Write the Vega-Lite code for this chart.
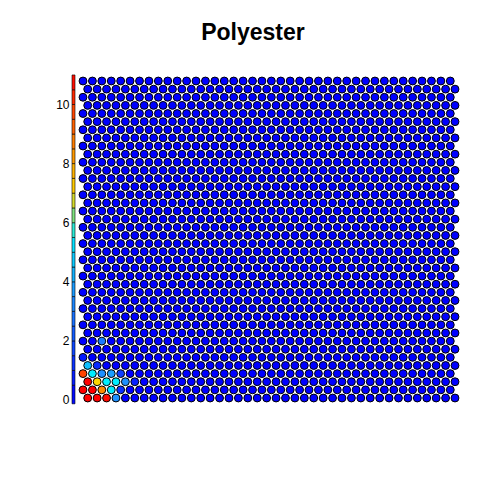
{
  "$schema": "https://vega.github.io/schema/vega-lite/v6.json",
  "background": "white",
  "autosize": "none",
  "padding": {"left": 72, "top": 70, "right": 18, "bottom": 70},
  "width": 390,
  "height": 340,
  "title": {
    "text": "Polyester",
    "font": "Liberation Sans",
    "fontSize": 23,
    "fontWeight": "bold",
    "color": "black",
    "anchor": "middle",
    "frame": "group",
    "baseline": "alphabetic",
    "offset": 7,
    "dx": -14
  },
  "config": {"view": {"stroke": null}},
  "datasets": {
    "bar": [
      {"lo":-0.13,"hi":0.5,"n":0.25},{"lo":0.5,"hi":1,"n":0.75},{"lo":1,"hi":1.5,"n":1.25},{"lo":1.5,"hi":2,"n":1.75},
      {"lo":2,"hi":2.5,"n":2.25},{"lo":2.5,"hi":3,"n":2.75},{"lo":3,"hi":3.5,"n":3.25},{"lo":3.5,"hi":4,"n":3.75},
      {"lo":4,"hi":4.5,"n":4.25},{"lo":4.5,"hi":5,"n":4.75},{"lo":5,"hi":5.5,"n":5.25},{"lo":5.5,"hi":6,"n":5.75},
      {"lo":6,"hi":6.5,"n":6.25},{"lo":6.5,"hi":7,"n":6.75},{"lo":7,"hi":7.5,"n":7.25},{"lo":7.5,"hi":8,"n":7.75},
      {"lo":8,"hi":8.5,"n":8.25},{"lo":8.5,"hi":9,"n":8.75},{"lo":9,"hi":9.5,"n":9.25},{"lo":9.5,"hi":10,"n":9.75},
      {"lo":10,"hi":10.5,"n":10.25},{"lo":10.5,"hi":11,"n":10.75}
    ],
    "cells": [
      {"x":0.5,"y":0,"n":11},{"x":1.5,"y":0,"n":11},{"x":2.5,"y":0,"n":10.8},{"x":3.5,"y":0,"n":3.5},{"x":4.5,"y":0,"n":0},{"x":5.5,"y":0,"n":0},{"x":6.5,"y":0,"n":0},{"x":7.5,"y":0,"n":0},{"x":8.5,"y":0,"n":0},{"x":9.5,"y":0,"n":0},{"x":10.5,"y":0,"n":0},{"x":11.5,"y":0,"n":0},{"x":12.5,"y":0,"n":0},{"x":13.5,"y":0,"n":0},{"x":14.5,"y":0,"n":0},{"x":15.5,"y":0,"n":0},{"x":16.5,"y":0,"n":0},{"x":17.5,"y":0,"n":0},{"x":18.5,"y":0,"n":0},{"x":19.5,"y":0,"n":0},{"x":20.5,"y":0,"n":0},{"x":21.5,"y":0,"n":0},{"x":22.5,"y":0,"n":0},{"x":23.5,"y":0,"n":0},{"x":24.5,"y":0,"n":0},{"x":25.5,"y":0,"n":0},{"x":26.5,"y":0,"n":0},{"x":27.5,"y":0,"n":0},{"x":28.5,"y":0,"n":0},{"x":29.5,"y":0,"n":0},{"x":30.5,"y":0,"n":0},{"x":31.5,"y":0,"n":0},{"x":32.5,"y":0,"n":0},{"x":33.5,"y":0,"n":0},{"x":34.5,"y":0,"n":0},{"x":35.5,"y":0,"n":0},{"x":36.5,"y":0,"n":0},{"x":37.5,"y":0,"n":0},{"x":38.5,"y":0,"n":0},{"x":39.5,"y":0,"n":0},
      {"x":0,"y":1,"n":11},{"x":1,"y":1,"n":11},{"x":2,"y":1,"n":8.5},{"x":3,"y":1,"n":5.5},{"x":4,"y":1,"n":1.2},{"x":5,"y":1,"n":0},{"x":6,"y":1,"n":0},{"x":7,"y":1,"n":0},{"x":8,"y":1,"n":0},{"x":9,"y":1,"n":0},{"x":10,"y":1,"n":0},{"x":11,"y":1,"n":0},{"x":12,"y":1,"n":0},{"x":13,"y":1,"n":0},{"x":14,"y":1,"n":0},{"x":15,"y":1,"n":0},{"x":16,"y":1,"n":0},{"x":17,"y":1,"n":0},{"x":18,"y":1,"n":0},{"x":19,"y":1,"n":0},{"x":20,"y":1,"n":0},{"x":21,"y":1,"n":0},{"x":22,"y":1,"n":0},{"x":23,"y":1,"n":0},{"x":24,"y":1,"n":0},{"x":25,"y":1,"n":0},{"x":26,"y":1,"n":0},{"x":27,"y":1,"n":0},{"x":28,"y":1,"n":0},{"x":29,"y":1,"n":0},{"x":30,"y":1,"n":0},{"x":31,"y":1,"n":0},{"x":32,"y":1,"n":0},{"x":33,"y":1,"n":0},{"x":34,"y":1,"n":0},{"x":35,"y":1,"n":0},{"x":36,"y":1,"n":0},{"x":37,"y":1,"n":0},{"x":38,"y":1,"n":0},{"x":39,"y":1,"n":0},
      {"x":0.5,"y":2,"n":11},{"x":1.5,"y":2,"n":7},{"x":2.5,"y":2,"n":5.5},{"x":3.5,"y":2,"n":5.5},{"x":4.5,"y":2,"n":3.5},{"x":5.5,"y":2,"n":0.8},{"x":6.5,"y":2,"n":0},{"x":7.5,"y":2,"n":0},{"x":8.5,"y":2,"n":0},{"x":9.5,"y":2,"n":0},{"x":10.5,"y":2,"n":0},{"x":11.5,"y":2,"n":0},{"x":12.5,"y":2,"n":0},{"x":13.5,"y":2,"n":0},{"x":14.5,"y":2,"n":0},{"x":15.5,"y":2,"n":0},{"x":16.5,"y":2,"n":0},{"x":17.5,"y":2,"n":0},{"x":18.5,"y":2,"n":0},{"x":19.5,"y":2,"n":0},{"x":20.5,"y":2,"n":0},{"x":21.5,"y":2,"n":0},{"x":22.5,"y":2,"n":0},{"x":23.5,"y":2,"n":0},{"x":24.5,"y":2,"n":0},{"x":25.5,"y":2,"n":0},{"x":26.5,"y":2,"n":0},{"x":27.5,"y":2,"n":0},{"x":28.5,"y":2,"n":0},{"x":29.5,"y":2,"n":0},{"x":30.5,"y":2,"n":0},{"x":31.5,"y":2,"n":0},{"x":32.5,"y":2,"n":0},{"x":33.5,"y":2,"n":0},{"x":34.5,"y":2,"n":0},{"x":35.5,"y":2,"n":0},{"x":36.5,"y":2,"n":0},{"x":37.5,"y":2,"n":0},{"x":38.5,"y":2,"n":0},{"x":39.5,"y":2,"n":0},
      {"x":0,"y":3,"n":9.8},{"x":1,"y":3,"n":5.5},{"x":2,"y":3,"n":3.5},{"x":3,"y":3,"n":3.8},{"x":4,"y":3,"n":1.5},{"x":5,"y":3,"n":0},{"x":6,"y":3,"n":0},{"x":7,"y":3,"n":0},{"x":8,"y":3,"n":0},{"x":9,"y":3,"n":0},{"x":10,"y":3,"n":0},{"x":11,"y":3,"n":0},{"x":12,"y":3,"n":0},{"x":13,"y":3,"n":0},{"x":14,"y":3,"n":0},{"x":15,"y":3,"n":0},{"x":16,"y":3,"n":0},{"x":17,"y":3,"n":0},{"x":18,"y":3,"n":0},{"x":19,"y":3,"n":0},{"x":20,"y":3,"n":0},{"x":21,"y":3,"n":0},{"x":22,"y":3,"n":0},{"x":23,"y":3,"n":0},{"x":24,"y":3,"n":0},{"x":25,"y":3,"n":0},{"x":26,"y":3,"n":0},{"x":27,"y":3,"n":0},{"x":28,"y":3,"n":0},{"x":29,"y":3,"n":0},{"x":30,"y":3,"n":0},{"x":31,"y":3,"n":0},{"x":32,"y":3,"n":0},{"x":33,"y":3,"n":0},{"x":34,"y":3,"n":0},{"x":35,"y":3,"n":0},{"x":36,"y":3,"n":0},{"x":37,"y":3,"n":0},{"x":38,"y":3,"n":0},{"x":39,"y":3,"n":0},
      {"x":0.5,"y":4,"n":4.5},{"x":1.5,"y":4,"n":1},{"x":2.5,"y":4,"n":0},{"x":3.5,"y":4,"n":0},{"x":4.5,"y":4,"n":0},{"x":5.5,"y":4,"n":0},{"x":6.5,"y":4,"n":0},{"x":7.5,"y":4,"n":0},{"x":8.5,"y":4,"n":0},{"x":9.5,"y":4,"n":0},{"x":10.5,"y":4,"n":0},{"x":11.5,"y":4,"n":0},{"x":12.5,"y":4,"n":0},{"x":13.5,"y":4,"n":0},{"x":14.5,"y":4,"n":0},{"x":15.5,"y":4,"n":0},{"x":16.5,"y":4,"n":0},{"x":17.5,"y":4,"n":0},{"x":18.5,"y":4,"n":0},{"x":19.5,"y":4,"n":0},{"x":20.5,"y":4,"n":0},{"x":21.5,"y":4,"n":0},{"x":22.5,"y":4,"n":0},{"x":23.5,"y":4,"n":0},{"x":24.5,"y":4,"n":0},{"x":25.5,"y":4,"n":0},{"x":26.5,"y":4,"n":0},{"x":27.5,"y":4,"n":0},{"x":28.5,"y":4,"n":0},{"x":29.5,"y":4,"n":0},{"x":30.5,"y":4,"n":0},{"x":31.5,"y":4,"n":0},{"x":32.5,"y":4,"n":0},{"x":33.5,"y":4,"n":0},{"x":34.5,"y":4,"n":0},{"x":35.5,"y":4,"n":0},{"x":36.5,"y":4,"n":0},{"x":37.5,"y":4,"n":0},{"x":38.5,"y":4,"n":0},{"x":39.5,"y":4,"n":0},
      {"x":0,"y":5,"n":0.6},{"x":1,"y":5,"n":0},{"x":2,"y":5,"n":0},{"x":3,"y":5,"n":0},{"x":4,"y":5,"n":0},{"x":5,"y":5,"n":0},{"x":6,"y":5,"n":0},{"x":7,"y":5,"n":0},{"x":8,"y":5,"n":0},{"x":9,"y":5,"n":0},{"x":10,"y":5,"n":0},{"x":11,"y":5,"n":0},{"x":12,"y":5,"n":0},{"x":13,"y":5,"n":0},{"x":14,"y":5,"n":0},{"x":15,"y":5,"n":0},{"x":16,"y":5,"n":0},{"x":17,"y":5,"n":0},{"x":18,"y":5,"n":0},{"x":19,"y":5,"n":0},{"x":20,"y":5,"n":0},{"x":21,"y":5,"n":0},{"x":22,"y":5,"n":0},{"x":23,"y":5,"n":0},{"x":24,"y":5,"n":0},{"x":25,"y":5,"n":0},{"x":26,"y":5,"n":0},{"x":27,"y":5,"n":0},{"x":28,"y":5,"n":0},{"x":29,"y":5,"n":0},{"x":30,"y":5,"n":0},{"x":31,"y":5,"n":0},{"x":32,"y":5,"n":0},{"x":33,"y":5,"n":0},{"x":34,"y":5,"n":0},{"x":35,"y":5,"n":0},{"x":36,"y":5,"n":0},{"x":37,"y":5,"n":0},{"x":38,"y":5,"n":0},{"x":39,"y":5,"n":0},
      {"x":0.5,"y":6,"n":0},{"x":1.5,"y":6,"n":0},{"x":2.5,"y":6,"n":0},{"x":3.5,"y":6,"n":0},{"x":4.5,"y":6,"n":0},{"x":5.5,"y":6,"n":0},{"x":6.5,"y":6,"n":0},{"x":7.5,"y":6,"n":0},{"x":8.5,"y":6,"n":0},{"x":9.5,"y":6,"n":0},{"x":10.5,"y":6,"n":0},{"x":11.5,"y":6,"n":0},{"x":12.5,"y":6,"n":0},{"x":13.5,"y":6,"n":0},{"x":14.5,"y":6,"n":0},{"x":15.5,"y":6,"n":0},{"x":16.5,"y":6,"n":0},{"x":17.5,"y":6,"n":0},{"x":18.5,"y":6,"n":0},{"x":19.5,"y":6,"n":0},{"x":20.5,"y":6,"n":0},{"x":21.5,"y":6,"n":0},{"x":22.5,"y":6,"n":0},{"x":23.5,"y":6,"n":0},{"x":24.5,"y":6,"n":0},{"x":25.5,"y":6,"n":0},{"x":26.5,"y":6,"n":0},{"x":27.5,"y":6,"n":0},{"x":28.5,"y":6,"n":0},{"x":29.5,"y":6,"n":0},{"x":30.5,"y":6,"n":0},{"x":31.5,"y":6,"n":0},{"x":32.5,"y":6,"n":0},{"x":33.5,"y":6,"n":0},{"x":34.5,"y":6,"n":0},{"x":35.5,"y":6,"n":0},{"x":36.5,"y":6,"n":0},{"x":37.5,"y":6,"n":0},{"x":38.5,"y":6,"n":0},{"x":39.5,"y":6,"n":0},
      {"x":0,"y":7,"n":0},{"x":1,"y":7,"n":0},{"x":2,"y":7,"n":3},{"x":3,"y":7,"n":0},{"x":4,"y":7,"n":0},{"x":5,"y":7,"n":0},{"x":6,"y":7,"n":0},{"x":7,"y":7,"n":0},{"x":8,"y":7,"n":0},{"x":9,"y":7,"n":0},{"x":10,"y":7,"n":0},{"x":11,"y":7,"n":0},{"x":12,"y":7,"n":0},{"x":13,"y":7,"n":0},{"x":14,"y":7,"n":0},{"x":15,"y":7,"n":0},{"x":16,"y":7,"n":0},{"x":17,"y":7,"n":0},{"x":18,"y":7,"n":0},{"x":19,"y":7,"n":0},{"x":20,"y":7,"n":0},{"x":21,"y":7,"n":0},{"x":22,"y":7,"n":0},{"x":23,"y":7,"n":0},{"x":24,"y":7,"n":0},{"x":25,"y":7,"n":0},{"x":26,"y":7,"n":0},{"x":27,"y":7,"n":0},{"x":28,"y":7,"n":0},{"x":29,"y":7,"n":0},{"x":30,"y":7,"n":0},{"x":31,"y":7,"n":0},{"x":32,"y":7,"n":0},{"x":33,"y":7,"n":0},{"x":34,"y":7,"n":0},{"x":35,"y":7,"n":0},{"x":36,"y":7,"n":0},{"x":37,"y":7,"n":0},{"x":38,"y":7,"n":0},{"x":39,"y":7,"n":0},
      {"x":0.5,"y":8,"n":0},{"x":1.5,"y":8,"n":0},{"x":2.5,"y":8,"n":0},{"x":3.5,"y":8,"n":0},{"x":4.5,"y":8,"n":0},{"x":5.5,"y":8,"n":0},{"x":6.5,"y":8,"n":0},{"x":7.5,"y":8,"n":0},{"x":8.5,"y":8,"n":0},{"x":9.5,"y":8,"n":0},{"x":10.5,"y":8,"n":0},{"x":11.5,"y":8,"n":0},{"x":12.5,"y":8,"n":0},{"x":13.5,"y":8,"n":0},{"x":14.5,"y":8,"n":0},{"x":15.5,"y":8,"n":0},{"x":16.5,"y":8,"n":0},{"x":17.5,"y":8,"n":0},{"x":18.5,"y":8,"n":0},{"x":19.5,"y":8,"n":0},{"x":20.5,"y":8,"n":0},{"x":21.5,"y":8,"n":0},{"x":22.5,"y":8,"n":0},{"x":23.5,"y":8,"n":0},{"x":24.5,"y":8,"n":0},{"x":25.5,"y":8,"n":0},{"x":26.5,"y":8,"n":0},{"x":27.5,"y":8,"n":0},{"x":28.5,"y":8,"n":0},{"x":29.5,"y":8,"n":0},{"x":30.5,"y":8,"n":0},{"x":31.5,"y":8,"n":0},{"x":32.5,"y":8,"n":0},{"x":33.5,"y":8,"n":0},{"x":34.5,"y":8,"n":0},{"x":35.5,"y":8,"n":0},{"x":36.5,"y":8,"n":0},{"x":37.5,"y":8,"n":0},{"x":38.5,"y":8,"n":0},{"x":39.5,"y":8,"n":0},
      {"x":0,"y":9,"n":0},{"x":1,"y":9,"n":0},{"x":2,"y":9,"n":0},{"x":3,"y":9,"n":0},{"x":4,"y":9,"n":0},{"x":5,"y":9,"n":0},{"x":6,"y":9,"n":0},{"x":7,"y":9,"n":0},{"x":8,"y":9,"n":0},{"x":9,"y":9,"n":0},{"x":10,"y":9,"n":0},{"x":11,"y":9,"n":0},{"x":12,"y":9,"n":0},{"x":13,"y":9,"n":0},{"x":14,"y":9,"n":0},{"x":15,"y":9,"n":0},{"x":16,"y":9,"n":0},{"x":17,"y":9,"n":0},{"x":18,"y":9,"n":0},{"x":19,"y":9,"n":0},{"x":20,"y":9,"n":0},{"x":21,"y":9,"n":0},{"x":22,"y":9,"n":0},{"x":23,"y":9,"n":0},{"x":24,"y":9,"n":0},{"x":25,"y":9,"n":0},{"x":26,"y":9,"n":0},{"x":27,"y":9,"n":0},{"x":28,"y":9,"n":0},{"x":29,"y":9,"n":0},{"x":30,"y":9,"n":0},{"x":31,"y":9,"n":0},{"x":32,"y":9,"n":0},{"x":33,"y":9,"n":0},{"x":34,"y":9,"n":0},{"x":35,"y":9,"n":0},{"x":36,"y":9,"n":0},{"x":37,"y":9,"n":0},{"x":38,"y":9,"n":0},{"x":39,"y":9,"n":0},
      {"x":0.5,"y":10,"n":0},{"x":1.5,"y":10,"n":0},{"x":2.5,"y":10,"n":0},{"x":3.5,"y":10,"n":0},{"x":4.5,"y":10,"n":0},{"x":5.5,"y":10,"n":0},{"x":6.5,"y":10,"n":0},{"x":7.5,"y":10,"n":0},{"x":8.5,"y":10,"n":0},{"x":9.5,"y":10,"n":0},{"x":10.5,"y":10,"n":0},{"x":11.5,"y":10,"n":0},{"x":12.5,"y":10,"n":0},{"x":13.5,"y":10,"n":0},{"x":14.5,"y":10,"n":0},{"x":15.5,"y":10,"n":0},{"x":16.5,"y":10,"n":0},{"x":17.5,"y":10,"n":0},{"x":18.5,"y":10,"n":0},{"x":19.5,"y":10,"n":0},{"x":20.5,"y":10,"n":0},{"x":21.5,"y":10,"n":0},{"x":22.5,"y":10,"n":0},{"x":23.5,"y":10,"n":0},{"x":24.5,"y":10,"n":0},{"x":25.5,"y":10,"n":0},{"x":26.5,"y":10,"n":0},{"x":27.5,"y":10,"n":0},{"x":28.5,"y":10,"n":0},{"x":29.5,"y":10,"n":0},{"x":30.5,"y":10,"n":0},{"x":31.5,"y":10,"n":0},{"x":32.5,"y":10,"n":0},{"x":33.5,"y":10,"n":0},{"x":34.5,"y":10,"n":0},{"x":35.5,"y":10,"n":0},{"x":36.5,"y":10,"n":0},{"x":37.5,"y":10,"n":0},{"x":38.5,"y":10,"n":0},{"x":39.5,"y":10,"n":0},
      {"x":0,"y":11,"n":0},{"x":1,"y":11,"n":0},{"x":2,"y":11,"n":0},{"x":3,"y":11,"n":0},{"x":4,"y":11,"n":0},{"x":5,"y":11,"n":0},{"x":6,"y":11,"n":0},{"x":7,"y":11,"n":0},{"x":8,"y":11,"n":0},{"x":9,"y":11,"n":0},{"x":10,"y":11,"n":0},{"x":11,"y":11,"n":0},{"x":12,"y":11,"n":0},{"x":13,"y":11,"n":0},{"x":14,"y":11,"n":0},{"x":15,"y":11,"n":0},{"x":16,"y":11,"n":0},{"x":17,"y":11,"n":0},{"x":18,"y":11,"n":0},{"x":19,"y":11,"n":0},{"x":20,"y":11,"n":0},{"x":21,"y":11,"n":0},{"x":22,"y":11,"n":0},{"x":23,"y":11,"n":0},{"x":24,"y":11,"n":0},{"x":25,"y":11,"n":0},{"x":26,"y":11,"n":0},{"x":27,"y":11,"n":0},{"x":28,"y":11,"n":0},{"x":29,"y":11,"n":0},{"x":30,"y":11,"n":0},{"x":31,"y":11,"n":0},{"x":32,"y":11,"n":0},{"x":33,"y":11,"n":0},{"x":34,"y":11,"n":0},{"x":35,"y":11,"n":0},{"x":36,"y":11,"n":0},{"x":37,"y":11,"n":0},{"x":38,"y":11,"n":0},{"x":39,"y":11,"n":0},
      {"x":0.5,"y":12,"n":0},{"x":1.5,"y":12,"n":0},{"x":2.5,"y":12,"n":0},{"x":3.5,"y":12,"n":0},{"x":4.5,"y":12,"n":0},{"x":5.5,"y":12,"n":0},{"x":6.5,"y":12,"n":0},{"x":7.5,"y":12,"n":0},{"x":8.5,"y":12,"n":0},{"x":9.5,"y":12,"n":0},{"x":10.5,"y":12,"n":0},{"x":11.5,"y":12,"n":0},{"x":12.5,"y":12,"n":0},{"x":13.5,"y":12,"n":0},{"x":14.5,"y":12,"n":0},{"x":15.5,"y":12,"n":0},{"x":16.5,"y":12,"n":0},{"x":17.5,"y":12,"n":0},{"x":18.5,"y":12,"n":0},{"x":19.5,"y":12,"n":0},{"x":20.5,"y":12,"n":0},{"x":21.5,"y":12,"n":0},{"x":22.5,"y":12,"n":0},{"x":23.5,"y":12,"n":0},{"x":24.5,"y":12,"n":0},{"x":25.5,"y":12,"n":0},{"x":26.5,"y":12,"n":0},{"x":27.5,"y":12,"n":0},{"x":28.5,"y":12,"n":0},{"x":29.5,"y":12,"n":0},{"x":30.5,"y":12,"n":0},{"x":31.5,"y":12,"n":0},{"x":32.5,"y":12,"n":0},{"x":33.5,"y":12,"n":0},{"x":34.5,"y":12,"n":0},{"x":35.5,"y":12,"n":0},{"x":36.5,"y":12,"n":0},{"x":37.5,"y":12,"n":0},{"x":38.5,"y":12,"n":0},{"x":39.5,"y":12,"n":0},
      {"x":0,"y":13,"n":0},{"x":1,"y":13,"n":0},{"x":2,"y":13,"n":0},{"x":3,"y":13,"n":0},{"x":4,"y":13,"n":0},{"x":5,"y":13,"n":0},{"x":6,"y":13,"n":0},{"x":7,"y":13,"n":0},{"x":8,"y":13,"n":0},{"x":9,"y":13,"n":0},{"x":10,"y":13,"n":0},{"x":11,"y":13,"n":0},{"x":12,"y":13,"n":0},{"x":13,"y":13,"n":0},{"x":14,"y":13,"n":0},{"x":15,"y":13,"n":0},{"x":16,"y":13,"n":0},{"x":17,"y":13,"n":0},{"x":18,"y":13,"n":0},{"x":19,"y":13,"n":0},{"x":20,"y":13,"n":0},{"x":21,"y":13,"n":0},{"x":22,"y":13,"n":0},{"x":23,"y":13,"n":0},{"x":24,"y":13,"n":0},{"x":25,"y":13,"n":0},{"x":26,"y":13,"n":0},{"x":27,"y":13,"n":0},{"x":28,"y":13,"n":0},{"x":29,"y":13,"n":0},{"x":30,"y":13,"n":0},{"x":31,"y":13,"n":0},{"x":32,"y":13,"n":0},{"x":33,"y":13,"n":0},{"x":34,"y":13,"n":0},{"x":35,"y":13,"n":0},{"x":36,"y":13,"n":0},{"x":37,"y":13,"n":0},{"x":38,"y":13,"n":0},{"x":39,"y":13,"n":0},
      {"x":0.5,"y":14,"n":0},{"x":1.5,"y":14,"n":0},{"x":2.5,"y":14,"n":0},{"x":3.5,"y":14,"n":0},{"x":4.5,"y":14,"n":0},{"x":5.5,"y":14,"n":0},{"x":6.5,"y":14,"n":0},{"x":7.5,"y":14,"n":0},{"x":8.5,"y":14,"n":0},{"x":9.5,"y":14,"n":0},{"x":10.5,"y":14,"n":0},{"x":11.5,"y":14,"n":0},{"x":12.5,"y":14,"n":0},{"x":13.5,"y":14,"n":0},{"x":14.5,"y":14,"n":0},{"x":15.5,"y":14,"n":0},{"x":16.5,"y":14,"n":0},{"x":17.5,"y":14,"n":0},{"x":18.5,"y":14,"n":0},{"x":19.5,"y":14,"n":0},{"x":20.5,"y":14,"n":0},{"x":21.5,"y":14,"n":0},{"x":22.5,"y":14,"n":0},{"x":23.5,"y":14,"n":0},{"x":24.5,"y":14,"n":0},{"x":25.5,"y":14,"n":0},{"x":26.5,"y":14,"n":0},{"x":27.5,"y":14,"n":0},{"x":28.5,"y":14,"n":0},{"x":29.5,"y":14,"n":0},{"x":30.5,"y":14,"n":0},{"x":31.5,"y":14,"n":0},{"x":32.5,"y":14,"n":0},{"x":33.5,"y":14,"n":0},{"x":34.5,"y":14,"n":0},{"x":35.5,"y":14,"n":0},{"x":36.5,"y":14,"n":0},{"x":37.5,"y":14,"n":0},{"x":38.5,"y":14,"n":0},{"x":39.5,"y":14,"n":0},
      {"x":0,"y":15,"n":0},{"x":1,"y":15,"n":0},{"x":2,"y":15,"n":0},{"x":3,"y":15,"n":0},{"x":4,"y":15,"n":0},{"x":5,"y":15,"n":0},{"x":6,"y":15,"n":0},{"x":7,"y":15,"n":0},{"x":8,"y":15,"n":0},{"x":9,"y":15,"n":0},{"x":10,"y":15,"n":0},{"x":11,"y":15,"n":0},{"x":12,"y":15,"n":0},{"x":13,"y":15,"n":0},{"x":14,"y":15,"n":0},{"x":15,"y":15,"n":0},{"x":16,"y":15,"n":0},{"x":17,"y":15,"n":0},{"x":18,"y":15,"n":0},{"x":19,"y":15,"n":0},{"x":20,"y":15,"n":0},{"x":21,"y":15,"n":0},{"x":22,"y":15,"n":0},{"x":23,"y":15,"n":0},{"x":24,"y":15,"n":0},{"x":25,"y":15,"n":0},{"x":26,"y":15,"n":0},{"x":27,"y":15,"n":0},{"x":28,"y":15,"n":0},{"x":29,"y":15,"n":0},{"x":30,"y":15,"n":0},{"x":31,"y":15,"n":0},{"x":32,"y":15,"n":0},{"x":33,"y":15,"n":0},{"x":34,"y":15,"n":0},{"x":35,"y":15,"n":0},{"x":36,"y":15,"n":0},{"x":37,"y":15,"n":0},{"x":38,"y":15,"n":0},{"x":39,"y":15,"n":0},
      {"x":0.5,"y":16,"n":0},{"x":1.5,"y":16,"n":0},{"x":2.5,"y":16,"n":0},{"x":3.5,"y":16,"n":0},{"x":4.5,"y":16,"n":0},{"x":5.5,"y":16,"n":0},{"x":6.5,"y":16,"n":0},{"x":7.5,"y":16,"n":0},{"x":8.5,"y":16,"n":0},{"x":9.5,"y":16,"n":0},{"x":10.5,"y":16,"n":0},{"x":11.5,"y":16,"n":0},{"x":12.5,"y":16,"n":0},{"x":13.5,"y":16,"n":0},{"x":14.5,"y":16,"n":0},{"x":15.5,"y":16,"n":0},{"x":16.5,"y":16,"n":0},{"x":17.5,"y":16,"n":0},{"x":18.5,"y":16,"n":0},{"x":19.5,"y":16,"n":0},{"x":20.5,"y":16,"n":0},{"x":21.5,"y":16,"n":0},{"x":22.5,"y":16,"n":0},{"x":23.5,"y":16,"n":0},{"x":24.5,"y":16,"n":0},{"x":25.5,"y":16,"n":0},{"x":26.5,"y":16,"n":0},{"x":27.5,"y":16,"n":0},{"x":28.5,"y":16,"n":0},{"x":29.5,"y":16,"n":0},{"x":30.5,"y":16,"n":0},{"x":31.5,"y":16,"n":0},{"x":32.5,"y":16,"n":0},{"x":33.5,"y":16,"n":0},{"x":34.5,"y":16,"n":0},{"x":35.5,"y":16,"n":0},{"x":36.5,"y":16,"n":0},{"x":37.5,"y":16,"n":0},{"x":38.5,"y":16,"n":0},{"x":39.5,"y":16,"n":0},
      {"x":0,"y":17,"n":0},{"x":1,"y":17,"n":0},{"x":2,"y":17,"n":0},{"x":3,"y":17,"n":0},{"x":4,"y":17,"n":0},{"x":5,"y":17,"n":0},{"x":6,"y":17,"n":0},{"x":7,"y":17,"n":0},{"x":8,"y":17,"n":0},{"x":9,"y":17,"n":0},{"x":10,"y":17,"n":0},{"x":11,"y":17,"n":0},{"x":12,"y":17,"n":0},{"x":13,"y":17,"n":0},{"x":14,"y":17,"n":0},{"x":15,"y":17,"n":0},{"x":16,"y":17,"n":0},{"x":17,"y":17,"n":0},{"x":18,"y":17,"n":0},{"x":19,"y":17,"n":0},{"x":20,"y":17,"n":0},{"x":21,"y":17,"n":0},{"x":22,"y":17,"n":0},{"x":23,"y":17,"n":0},{"x":24,"y":17,"n":0},{"x":25,"y":17,"n":0},{"x":26,"y":17,"n":0},{"x":27,"y":17,"n":0},{"x":28,"y":17,"n":0},{"x":29,"y":17,"n":0},{"x":30,"y":17,"n":0},{"x":31,"y":17,"n":0},{"x":32,"y":17,"n":0},{"x":33,"y":17,"n":0},{"x":34,"y":17,"n":0},{"x":35,"y":17,"n":0},{"x":36,"y":17,"n":0},{"x":37,"y":17,"n":0},{"x":38,"y":17,"n":0},{"x":39,"y":17,"n":0},
      {"x":0.5,"y":18,"n":0},{"x":1.5,"y":18,"n":0},{"x":2.5,"y":18,"n":0},{"x":3.5,"y":18,"n":0},{"x":4.5,"y":18,"n":0},{"x":5.5,"y":18,"n":0},{"x":6.5,"y":18,"n":0},{"x":7.5,"y":18,"n":0},{"x":8.5,"y":18,"n":0},{"x":9.5,"y":18,"n":0},{"x":10.5,"y":18,"n":0},{"x":11.5,"y":18,"n":0},{"x":12.5,"y":18,"n":0},{"x":13.5,"y":18,"n":0},{"x":14.5,"y":18,"n":0},{"x":15.5,"y":18,"n":0},{"x":16.5,"y":18,"n":0},{"x":17.5,"y":18,"n":0},{"x":18.5,"y":18,"n":0},{"x":19.5,"y":18,"n":0},{"x":20.5,"y":18,"n":0},{"x":21.5,"y":18,"n":0},{"x":22.5,"y":18,"n":0},{"x":23.5,"y":18,"n":0},{"x":24.5,"y":18,"n":0},{"x":25.5,"y":18,"n":0},{"x":26.5,"y":18,"n":0},{"x":27.5,"y":18,"n":0},{"x":28.5,"y":18,"n":0},{"x":29.5,"y":18,"n":0},{"x":30.5,"y":18,"n":0},{"x":31.5,"y":18,"n":0},{"x":32.5,"y":18,"n":0},{"x":33.5,"y":18,"n":0},{"x":34.5,"y":18,"n":0},{"x":35.5,"y":18,"n":0},{"x":36.5,"y":18,"n":0},{"x":37.5,"y":18,"n":0},{"x":38.5,"y":18,"n":0},{"x":39.5,"y":18,"n":0},
      {"x":0,"y":19,"n":0},{"x":1,"y":19,"n":0},{"x":2,"y":19,"n":0},{"x":3,"y":19,"n":0},{"x":4,"y":19,"n":0},{"x":5,"y":19,"n":0},{"x":6,"y":19,"n":0},{"x":7,"y":19,"n":0},{"x":8,"y":19,"n":0},{"x":9,"y":19,"n":0},{"x":10,"y":19,"n":0},{"x":11,"y":19,"n":0},{"x":12,"y":19,"n":0},{"x":13,"y":19,"n":0},{"x":14,"y":19,"n":0},{"x":15,"y":19,"n":0},{"x":16,"y":19,"n":0},{"x":17,"y":19,"n":0},{"x":18,"y":19,"n":0},{"x":19,"y":19,"n":0},{"x":20,"y":19,"n":0},{"x":21,"y":19,"n":0},{"x":22,"y":19,"n":0},{"x":23,"y":19,"n":0},{"x":24,"y":19,"n":0},{"x":25,"y":19,"n":0},{"x":26,"y":19,"n":0},{"x":27,"y":19,"n":0},{"x":28,"y":19,"n":0},{"x":29,"y":19,"n":0},{"x":30,"y":19,"n":0},{"x":31,"y":19,"n":0},{"x":32,"y":19,"n":0},{"x":33,"y":19,"n":0},{"x":34,"y":19,"n":0},{"x":35,"y":19,"n":0},{"x":36,"y":19,"n":0},{"x":37,"y":19,"n":0},{"x":38,"y":19,"n":0},{"x":39,"y":19,"n":0},
      {"x":0.5,"y":20,"n":0},{"x":1.5,"y":20,"n":0},{"x":2.5,"y":20,"n":0},{"x":3.5,"y":20,"n":0},{"x":4.5,"y":20,"n":0},{"x":5.5,"y":20,"n":0},{"x":6.5,"y":20,"n":0},{"x":7.5,"y":20,"n":0},{"x":8.5,"y":20,"n":0},{"x":9.5,"y":20,"n":0},{"x":10.5,"y":20,"n":0},{"x":11.5,"y":20,"n":0},{"x":12.5,"y":20,"n":0},{"x":13.5,"y":20,"n":0},{"x":14.5,"y":20,"n":0},{"x":15.5,"y":20,"n":0},{"x":16.5,"y":20,"n":0},{"x":17.5,"y":20,"n":0},{"x":18.5,"y":20,"n":0},{"x":19.5,"y":20,"n":0},{"x":20.5,"y":20,"n":0},{"x":21.5,"y":20,"n":0},{"x":22.5,"y":20,"n":0},{"x":23.5,"y":20,"n":0},{"x":24.5,"y":20,"n":0},{"x":25.5,"y":20,"n":0},{"x":26.5,"y":20,"n":0},{"x":27.5,"y":20,"n":0},{"x":28.5,"y":20,"n":0},{"x":29.5,"y":20,"n":0},{"x":30.5,"y":20,"n":0},{"x":31.5,"y":20,"n":0},{"x":32.5,"y":20,"n":0},{"x":33.5,"y":20,"n":0},{"x":34.5,"y":20,"n":0},{"x":35.5,"y":20,"n":0},{"x":36.5,"y":20,"n":0},{"x":37.5,"y":20,"n":0},{"x":38.5,"y":20,"n":0},{"x":39.5,"y":20,"n":0},
      {"x":0,"y":21,"n":0},{"x":1,"y":21,"n":0},{"x":2,"y":21,"n":0},{"x":3,"y":21,"n":0},{"x":4,"y":21,"n":0},{"x":5,"y":21,"n":0},{"x":6,"y":21,"n":0},{"x":7,"y":21,"n":0},{"x":8,"y":21,"n":0},{"x":9,"y":21,"n":0},{"x":10,"y":21,"n":0},{"x":11,"y":21,"n":0},{"x":12,"y":21,"n":0},{"x":13,"y":21,"n":0},{"x":14,"y":21,"n":0},{"x":15,"y":21,"n":0},{"x":16,"y":21,"n":0},{"x":17,"y":21,"n":0},{"x":18,"y":21,"n":0},{"x":19,"y":21,"n":0},{"x":20,"y":21,"n":0},{"x":21,"y":21,"n":0},{"x":22,"y":21,"n":0},{"x":23,"y":21,"n":0},{"x":24,"y":21,"n":0},{"x":25,"y":21,"n":0},{"x":26,"y":21,"n":0},{"x":27,"y":21,"n":0},{"x":28,"y":21,"n":0},{"x":29,"y":21,"n":0},{"x":30,"y":21,"n":0},{"x":31,"y":21,"n":0},{"x":32,"y":21,"n":0},{"x":33,"y":21,"n":0},{"x":34,"y":21,"n":0},{"x":35,"y":21,"n":0},{"x":36,"y":21,"n":0},{"x":37,"y":21,"n":0},{"x":38,"y":21,"n":0},{"x":39,"y":21,"n":0},
      {"x":0.5,"y":22,"n":0},{"x":1.5,"y":22,"n":0},{"x":2.5,"y":22,"n":0},{"x":3.5,"y":22,"n":0},{"x":4.5,"y":22,"n":0},{"x":5.5,"y":22,"n":0},{"x":6.5,"y":22,"n":0},{"x":7.5,"y":22,"n":0},{"x":8.5,"y":22,"n":0},{"x":9.5,"y":22,"n":0},{"x":10.5,"y":22,"n":0},{"x":11.5,"y":22,"n":0},{"x":12.5,"y":22,"n":0},{"x":13.5,"y":22,"n":0},{"x":14.5,"y":22,"n":0},{"x":15.5,"y":22,"n":0},{"x":16.5,"y":22,"n":0},{"x":17.5,"y":22,"n":0},{"x":18.5,"y":22,"n":0},{"x":19.5,"y":22,"n":0},{"x":20.5,"y":22,"n":0},{"x":21.5,"y":22,"n":0},{"x":22.5,"y":22,"n":0},{"x":23.5,"y":22,"n":0},{"x":24.5,"y":22,"n":0},{"x":25.5,"y":22,"n":0},{"x":26.5,"y":22,"n":0},{"x":27.5,"y":22,"n":0},{"x":28.5,"y":22,"n":0},{"x":29.5,"y":22,"n":0},{"x":30.5,"y":22,"n":0},{"x":31.5,"y":22,"n":0},{"x":32.5,"y":22,"n":0},{"x":33.5,"y":22,"n":0},{"x":34.5,"y":22,"n":0},{"x":35.5,"y":22,"n":0},{"x":36.5,"y":22,"n":0},{"x":37.5,"y":22,"n":0},{"x":38.5,"y":22,"n":0},{"x":39.5,"y":22,"n":0},
      {"x":0,"y":23,"n":0},{"x":1,"y":23,"n":0},{"x":2,"y":23,"n":0},{"x":3,"y":23,"n":0},{"x":4,"y":23,"n":0},{"x":5,"y":23,"n":0},{"x":6,"y":23,"n":0},{"x":7,"y":23,"n":0},{"x":8,"y":23,"n":0},{"x":9,"y":23,"n":0},{"x":10,"y":23,"n":0},{"x":11,"y":23,"n":0},{"x":12,"y":23,"n":0},{"x":13,"y":23,"n":0},{"x":14,"y":23,"n":0},{"x":15,"y":23,"n":0},{"x":16,"y":23,"n":0},{"x":17,"y":23,"n":0},{"x":18,"y":23,"n":0},{"x":19,"y":23,"n":0},{"x":20,"y":23,"n":0},{"x":21,"y":23,"n":0},{"x":22,"y":23,"n":0},{"x":23,"y":23,"n":0},{"x":24,"y":23,"n":0},{"x":25,"y":23,"n":0},{"x":26,"y":23,"n":0},{"x":27,"y":23,"n":0},{"x":28,"y":23,"n":0},{"x":29,"y":23,"n":0},{"x":30,"y":23,"n":0},{"x":31,"y":23,"n":0},{"x":32,"y":23,"n":0},{"x":33,"y":23,"n":0},{"x":34,"y":23,"n":0},{"x":35,"y":23,"n":0},{"x":36,"y":23,"n":0},{"x":37,"y":23,"n":0},{"x":38,"y":23,"n":0},{"x":39,"y":23,"n":0},
      {"x":0.5,"y":24,"n":0},{"x":1.5,"y":24,"n":0},{"x":2.5,"y":24,"n":0},{"x":3.5,"y":24,"n":0},{"x":4.5,"y":24,"n":0},{"x":5.5,"y":24,"n":0},{"x":6.5,"y":24,"n":0},{"x":7.5,"y":24,"n":0},{"x":8.5,"y":24,"n":0},{"x":9.5,"y":24,"n":0},{"x":10.5,"y":24,"n":0},{"x":11.5,"y":24,"n":0},{"x":12.5,"y":24,"n":0},{"x":13.5,"y":24,"n":0},{"x":14.5,"y":24,"n":0},{"x":15.5,"y":24,"n":0},{"x":16.5,"y":24,"n":0},{"x":17.5,"y":24,"n":0},{"x":18.5,"y":24,"n":0},{"x":19.5,"y":24,"n":0},{"x":20.5,"y":24,"n":0},{"x":21.5,"y":24,"n":0},{"x":22.5,"y":24,"n":0},{"x":23.5,"y":24,"n":0},{"x":24.5,"y":24,"n":0},{"x":25.5,"y":24,"n":0},{"x":26.5,"y":24,"n":0},{"x":27.5,"y":24,"n":0},{"x":28.5,"y":24,"n":0},{"x":29.5,"y":24,"n":0},{"x":30.5,"y":24,"n":0},{"x":31.5,"y":24,"n":0},{"x":32.5,"y":24,"n":0},{"x":33.5,"y":24,"n":0},{"x":34.5,"y":24,"n":0},{"x":35.5,"y":24,"n":0},{"x":36.5,"y":24,"n":0},{"x":37.5,"y":24,"n":0},{"x":38.5,"y":24,"n":0},{"x":39.5,"y":24,"n":0},
      {"x":0,"y":25,"n":0},{"x":1,"y":25,"n":0},{"x":2,"y":25,"n":0},{"x":3,"y":25,"n":0},{"x":4,"y":25,"n":0},{"x":5,"y":25,"n":0},{"x":6,"y":25,"n":0},{"x":7,"y":25,"n":0},{"x":8,"y":25,"n":0},{"x":9,"y":25,"n":0},{"x":10,"y":25,"n":0},{"x":11,"y":25,"n":0},{"x":12,"y":25,"n":0},{"x":13,"y":25,"n":0},{"x":14,"y":25,"n":0},{"x":15,"y":25,"n":0},{"x":16,"y":25,"n":0},{"x":17,"y":25,"n":0},{"x":18,"y":25,"n":0},{"x":19,"y":25,"n":0},{"x":20,"y":25,"n":0},{"x":21,"y":25,"n":0},{"x":22,"y":25,"n":0},{"x":23,"y":25,"n":0},{"x":24,"y":25,"n":0},{"x":25,"y":25,"n":0},{"x":26,"y":25,"n":0},{"x":27,"y":25,"n":0},{"x":28,"y":25,"n":0},{"x":29,"y":25,"n":0},{"x":30,"y":25,"n":0},{"x":31,"y":25,"n":0},{"x":32,"y":25,"n":0},{"x":33,"y":25,"n":0},{"x":34,"y":25,"n":0},{"x":35,"y":25,"n":0},{"x":36,"y":25,"n":0},{"x":37,"y":25,"n":0},{"x":38,"y":25,"n":0},{"x":39,"y":25,"n":0},
      {"x":0.5,"y":26,"n":0},{"x":1.5,"y":26,"n":0},{"x":2.5,"y":26,"n":0},{"x":3.5,"y":26,"n":0},{"x":4.5,"y":26,"n":0},{"x":5.5,"y":26,"n":0},{"x":6.5,"y":26,"n":0},{"x":7.5,"y":26,"n":0},{"x":8.5,"y":26,"n":0},{"x":9.5,"y":26,"n":0},{"x":10.5,"y":26,"n":0},{"x":11.5,"y":26,"n":0},{"x":12.5,"y":26,"n":0},{"x":13.5,"y":26,"n":0},{"x":14.5,"y":26,"n":0},{"x":15.5,"y":26,"n":0},{"x":16.5,"y":26,"n":0},{"x":17.5,"y":26,"n":0},{"x":18.5,"y":26,"n":0},{"x":19.5,"y":26,"n":0},{"x":20.5,"y":26,"n":0},{"x":21.5,"y":26,"n":0},{"x":22.5,"y":26,"n":0},{"x":23.5,"y":26,"n":0},{"x":24.5,"y":26,"n":0},{"x":25.5,"y":26,"n":0},{"x":26.5,"y":26,"n":0},{"x":27.5,"y":26,"n":0},{"x":28.5,"y":26,"n":0},{"x":29.5,"y":26,"n":0},{"x":30.5,"y":26,"n":0},{"x":31.5,"y":26,"n":0},{"x":32.5,"y":26,"n":0},{"x":33.5,"y":26,"n":0},{"x":34.5,"y":26,"n":0},{"x":35.5,"y":26,"n":0},{"x":36.5,"y":26,"n":0},{"x":37.5,"y":26,"n":0},{"x":38.5,"y":26,"n":0},{"x":39.5,"y":26,"n":0},
      {"x":0,"y":27,"n":0},{"x":1,"y":27,"n":0},{"x":2,"y":27,"n":0},{"x":3,"y":27,"n":0},{"x":4,"y":27,"n":0},{"x":5,"y":27,"n":0},{"x":6,"y":27,"n":0},{"x":7,"y":27,"n":0},{"x":8,"y":27,"n":0},{"x":9,"y":27,"n":0},{"x":10,"y":27,"n":0},{"x":11,"y":27,"n":0},{"x":12,"y":27,"n":0},{"x":13,"y":27,"n":0},{"x":14,"y":27,"n":0},{"x":15,"y":27,"n":0},{"x":16,"y":27,"n":0},{"x":17,"y":27,"n":0},{"x":18,"y":27,"n":0},{"x":19,"y":27,"n":0},{"x":20,"y":27,"n":0},{"x":21,"y":27,"n":0},{"x":22,"y":27,"n":0},{"x":23,"y":27,"n":0},{"x":24,"y":27,"n":0},{"x":25,"y":27,"n":0},{"x":26,"y":27,"n":0},{"x":27,"y":27,"n":0},{"x":28,"y":27,"n":0},{"x":29,"y":27,"n":0},{"x":30,"y":27,"n":0},{"x":31,"y":27,"n":0},{"x":32,"y":27,"n":0},{"x":33,"y":27,"n":0},{"x":34,"y":27,"n":0},{"x":35,"y":27,"n":0},{"x":36,"y":27,"n":0},{"x":37,"y":27,"n":0},{"x":38,"y":27,"n":0},{"x":39,"y":27,"n":0},
      {"x":0.5,"y":28,"n":0},{"x":1.5,"y":28,"n":0},{"x":2.5,"y":28,"n":0},{"x":3.5,"y":28,"n":0},{"x":4.5,"y":28,"n":0},{"x":5.5,"y":28,"n":0},{"x":6.5,"y":28,"n":0},{"x":7.5,"y":28,"n":0},{"x":8.5,"y":28,"n":0},{"x":9.5,"y":28,"n":0},{"x":10.5,"y":28,"n":0},{"x":11.5,"y":28,"n":0},{"x":12.5,"y":28,"n":0},{"x":13.5,"y":28,"n":0},{"x":14.5,"y":28,"n":0},{"x":15.5,"y":28,"n":0},{"x":16.5,"y":28,"n":0},{"x":17.5,"y":28,"n":0},{"x":18.5,"y":28,"n":0},{"x":19.5,"y":28,"n":0},{"x":20.5,"y":28,"n":0},{"x":21.5,"y":28,"n":0},{"x":22.5,"y":28,"n":0},{"x":23.5,"y":28,"n":0},{"x":24.5,"y":28,"n":0},{"x":25.5,"y":28,"n":0},{"x":26.5,"y":28,"n":0},{"x":27.5,"y":28,"n":0},{"x":28.5,"y":28,"n":0},{"x":29.5,"y":28,"n":0},{"x":30.5,"y":28,"n":0},{"x":31.5,"y":28,"n":0},{"x":32.5,"y":28,"n":0},{"x":33.5,"y":28,"n":0},{"x":34.5,"y":28,"n":0},{"x":35.5,"y":28,"n":0},{"x":36.5,"y":28,"n":0},{"x":37.5,"y":28,"n":0},{"x":38.5,"y":28,"n":0},{"x":39.5,"y":28,"n":0},
      {"x":0,"y":29,"n":0},{"x":1,"y":29,"n":0},{"x":2,"y":29,"n":0},{"x":3,"y":29,"n":0},{"x":4,"y":29,"n":0},{"x":5,"y":29,"n":0},{"x":6,"y":29,"n":0},{"x":7,"y":29,"n":0},{"x":8,"y":29,"n":0},{"x":9,"y":29,"n":0},{"x":10,"y":29,"n":0},{"x":11,"y":29,"n":0},{"x":12,"y":29,"n":0},{"x":13,"y":29,"n":0},{"x":14,"y":29,"n":0},{"x":15,"y":29,"n":0},{"x":16,"y":29,"n":0},{"x":17,"y":29,"n":0},{"x":18,"y":29,"n":0},{"x":19,"y":29,"n":0},{"x":20,"y":29,"n":0},{"x":21,"y":29,"n":0},{"x":22,"y":29,"n":0},{"x":23,"y":29,"n":0},{"x":24,"y":29,"n":0},{"x":25,"y":29,"n":0},{"x":26,"y":29,"n":0},{"x":27,"y":29,"n":0},{"x":28,"y":29,"n":0},{"x":29,"y":29,"n":0},{"x":30,"y":29,"n":0},{"x":31,"y":29,"n":0},{"x":32,"y":29,"n":0},{"x":33,"y":29,"n":0},{"x":34,"y":29,"n":0},{"x":35,"y":29,"n":0},{"x":36,"y":29,"n":0},{"x":37,"y":29,"n":0},{"x":38,"y":29,"n":0},{"x":39,"y":29,"n":0},
      {"x":0.5,"y":30,"n":0},{"x":1.5,"y":30,"n":0},{"x":2.5,"y":30,"n":0},{"x":3.5,"y":30,"n":0},{"x":4.5,"y":30,"n":0},{"x":5.5,"y":30,"n":0},{"x":6.5,"y":30,"n":0},{"x":7.5,"y":30,"n":0},{"x":8.5,"y":30,"n":0},{"x":9.5,"y":30,"n":0},{"x":10.5,"y":30,"n":0},{"x":11.5,"y":30,"n":0},{"x":12.5,"y":30,"n":0},{"x":13.5,"y":30,"n":0},{"x":14.5,"y":30,"n":0},{"x":15.5,"y":30,"n":0},{"x":16.5,"y":30,"n":0},{"x":17.5,"y":30,"n":0},{"x":18.5,"y":30,"n":0},{"x":19.5,"y":30,"n":0},{"x":20.5,"y":30,"n":0},{"x":21.5,"y":30,"n":0},{"x":22.5,"y":30,"n":0},{"x":23.5,"y":30,"n":0},{"x":24.5,"y":30,"n":0},{"x":25.5,"y":30,"n":0},{"x":26.5,"y":30,"n":0},{"x":27.5,"y":30,"n":0},{"x":28.5,"y":30,"n":0},{"x":29.5,"y":30,"n":0},{"x":30.5,"y":30,"n":0},{"x":31.5,"y":30,"n":0},{"x":32.5,"y":30,"n":0},{"x":33.5,"y":30,"n":0},{"x":34.5,"y":30,"n":0},{"x":35.5,"y":30,"n":0},{"x":36.5,"y":30,"n":0},{"x":37.5,"y":30,"n":0},{"x":38.5,"y":30,"n":0},{"x":39.5,"y":30,"n":0},
      {"x":0,"y":31,"n":0},{"x":1,"y":31,"n":0},{"x":2,"y":31,"n":0},{"x":3,"y":31,"n":0},{"x":4,"y":31,"n":0},{"x":5,"y":31,"n":0},{"x":6,"y":31,"n":0},{"x":7,"y":31,"n":0},{"x":8,"y":31,"n":0},{"x":9,"y":31,"n":0},{"x":10,"y":31,"n":0},{"x":11,"y":31,"n":0},{"x":12,"y":31,"n":0},{"x":13,"y":31,"n":0},{"x":14,"y":31,"n":0},{"x":15,"y":31,"n":0},{"x":16,"y":31,"n":0},{"x":17,"y":31,"n":0},{"x":18,"y":31,"n":0},{"x":19,"y":31,"n":0},{"x":20,"y":31,"n":0},{"x":21,"y":31,"n":0},{"x":22,"y":31,"n":0},{"x":23,"y":31,"n":0},{"x":24,"y":31,"n":0},{"x":25,"y":31,"n":0},{"x":26,"y":31,"n":0},{"x":27,"y":31,"n":0},{"x":28,"y":31,"n":0},{"x":29,"y":31,"n":0},{"x":30,"y":31,"n":0},{"x":31,"y":31,"n":0},{"x":32,"y":31,"n":0},{"x":33,"y":31,"n":0},{"x":34,"y":31,"n":0},{"x":35,"y":31,"n":0},{"x":36,"y":31,"n":0},{"x":37,"y":31,"n":0},{"x":38,"y":31,"n":0},{"x":39,"y":31,"n":0},
      {"x":0.5,"y":32,"n":0},{"x":1.5,"y":32,"n":0},{"x":2.5,"y":32,"n":0},{"x":3.5,"y":32,"n":0},{"x":4.5,"y":32,"n":0},{"x":5.5,"y":32,"n":0},{"x":6.5,"y":32,"n":0},{"x":7.5,"y":32,"n":0},{"x":8.5,"y":32,"n":0},{"x":9.5,"y":32,"n":0},{"x":10.5,"y":32,"n":0},{"x":11.5,"y":32,"n":0},{"x":12.5,"y":32,"n":0},{"x":13.5,"y":32,"n":0},{"x":14.5,"y":32,"n":0},{"x":15.5,"y":32,"n":0},{"x":16.5,"y":32,"n":0},{"x":17.5,"y":32,"n":0},{"x":18.5,"y":32,"n":0},{"x":19.5,"y":32,"n":0},{"x":20.5,"y":32,"n":0},{"x":21.5,"y":32,"n":0},{"x":22.5,"y":32,"n":0},{"x":23.5,"y":32,"n":0},{"x":24.5,"y":32,"n":0},{"x":25.5,"y":32,"n":0},{"x":26.5,"y":32,"n":0},{"x":27.5,"y":32,"n":0},{"x":28.5,"y":32,"n":0},{"x":29.5,"y":32,"n":0},{"x":30.5,"y":32,"n":0},{"x":31.5,"y":32,"n":0},{"x":32.5,"y":32,"n":0},{"x":33.5,"y":32,"n":0},{"x":34.5,"y":32,"n":0},{"x":35.5,"y":32,"n":0},{"x":36.5,"y":32,"n":0},{"x":37.5,"y":32,"n":0},{"x":38.5,"y":32,"n":0},{"x":39.5,"y":32,"n":0},
      {"x":0,"y":33,"n":0},{"x":1,"y":33,"n":0},{"x":2,"y":33,"n":0},{"x":3,"y":33,"n":0},{"x":4,"y":33,"n":0},{"x":5,"y":33,"n":0},{"x":6,"y":33,"n":0},{"x":7,"y":33,"n":0},{"x":8,"y":33,"n":0},{"x":9,"y":33,"n":0},{"x":10,"y":33,"n":0},{"x":11,"y":33,"n":0},{"x":12,"y":33,"n":0},{"x":13,"y":33,"n":0},{"x":14,"y":33,"n":0},{"x":15,"y":33,"n":0},{"x":16,"y":33,"n":0},{"x":17,"y":33,"n":0},{"x":18,"y":33,"n":0},{"x":19,"y":33,"n":0},{"x":20,"y":33,"n":0},{"x":21,"y":33,"n":0},{"x":22,"y":33,"n":0},{"x":23,"y":33,"n":0},{"x":24,"y":33,"n":0},{"x":25,"y":33,"n":0},{"x":26,"y":33,"n":0},{"x":27,"y":33,"n":0},{"x":28,"y":33,"n":0},{"x":29,"y":33,"n":0},{"x":30,"y":33,"n":0},{"x":31,"y":33,"n":0},{"x":32,"y":33,"n":0},{"x":33,"y":33,"n":0},{"x":34,"y":33,"n":0},{"x":35,"y":33,"n":0},{"x":36,"y":33,"n":0},{"x":37,"y":33,"n":0},{"x":38,"y":33,"n":0},{"x":39,"y":33,"n":0},
      {"x":0.5,"y":34,"n":0},{"x":1.5,"y":34,"n":0},{"x":2.5,"y":34,"n":0},{"x":3.5,"y":34,"n":0},{"x":4.5,"y":34,"n":0},{"x":5.5,"y":34,"n":0},{"x":6.5,"y":34,"n":0},{"x":7.5,"y":34,"n":0},{"x":8.5,"y":34,"n":0},{"x":9.5,"y":34,"n":0},{"x":10.5,"y":34,"n":0},{"x":11.5,"y":34,"n":0},{"x":12.5,"y":34,"n":0},{"x":13.5,"y":34,"n":0},{"x":14.5,"y":34,"n":0},{"x":15.5,"y":34,"n":0},{"x":16.5,"y":34,"n":0},{"x":17.5,"y":34,"n":0},{"x":18.5,"y":34,"n":0},{"x":19.5,"y":34,"n":0},{"x":20.5,"y":34,"n":0},{"x":21.5,"y":34,"n":0},{"x":22.5,"y":34,"n":0},{"x":23.5,"y":34,"n":0},{"x":24.5,"y":34,"n":0},{"x":25.5,"y":34,"n":0},{"x":26.5,"y":34,"n":0},{"x":27.5,"y":34,"n":0},{"x":28.5,"y":34,"n":0},{"x":29.5,"y":34,"n":0},{"x":30.5,"y":34,"n":0},{"x":31.5,"y":34,"n":0},{"x":32.5,"y":34,"n":0},{"x":33.5,"y":34,"n":0},{"x":34.5,"y":34,"n":0},{"x":35.5,"y":34,"n":0},{"x":36.5,"y":34,"n":0},{"x":37.5,"y":34,"n":0},{"x":38.5,"y":34,"n":0},{"x":39.5,"y":34,"n":0},
      {"x":0,"y":35,"n":0},{"x":1,"y":35,"n":0},{"x":2,"y":35,"n":0},{"x":3,"y":35,"n":0},{"x":4,"y":35,"n":0},{"x":5,"y":35,"n":0},{"x":6,"y":35,"n":0},{"x":7,"y":35,"n":0},{"x":8,"y":35,"n":0},{"x":9,"y":35,"n":0},{"x":10,"y":35,"n":0},{"x":11,"y":35,"n":0},{"x":12,"y":35,"n":0},{"x":13,"y":35,"n":0},{"x":14,"y":35,"n":0},{"x":15,"y":35,"n":0},{"x":16,"y":35,"n":0},{"x":17,"y":35,"n":0},{"x":18,"y":35,"n":0},{"x":19,"y":35,"n":0},{"x":20,"y":35,"n":0},{"x":21,"y":35,"n":0},{"x":22,"y":35,"n":0},{"x":23,"y":35,"n":0},{"x":24,"y":35,"n":0},{"x":25,"y":35,"n":0},{"x":26,"y":35,"n":0},{"x":27,"y":35,"n":0},{"x":28,"y":35,"n":0},{"x":29,"y":35,"n":0},{"x":30,"y":35,"n":0},{"x":31,"y":35,"n":0},{"x":32,"y":35,"n":0},{"x":33,"y":35,"n":0},{"x":34,"y":35,"n":0},{"x":35,"y":35,"n":0},{"x":36,"y":35,"n":0},{"x":37,"y":35,"n":0},{"x":38,"y":35,"n":0},{"x":39,"y":35,"n":0},
      {"x":0.5,"y":36,"n":0},{"x":1.5,"y":36,"n":0},{"x":2.5,"y":36,"n":0},{"x":3.5,"y":36,"n":0},{"x":4.5,"y":36,"n":0},{"x":5.5,"y":36,"n":0},{"x":6.5,"y":36,"n":0},{"x":7.5,"y":36,"n":0},{"x":8.5,"y":36,"n":0},{"x":9.5,"y":36,"n":0},{"x":10.5,"y":36,"n":0},{"x":11.5,"y":36,"n":0},{"x":12.5,"y":36,"n":0},{"x":13.5,"y":36,"n":0},{"x":14.5,"y":36,"n":0},{"x":15.5,"y":36,"n":0},{"x":16.5,"y":36,"n":0},{"x":17.5,"y":36,"n":0},{"x":18.5,"y":36,"n":0},{"x":19.5,"y":36,"n":0},{"x":20.5,"y":36,"n":0},{"x":21.5,"y":36,"n":0},{"x":22.5,"y":36,"n":0},{"x":23.5,"y":36,"n":0},{"x":24.5,"y":36,"n":0},{"x":25.5,"y":36,"n":0},{"x":26.5,"y":36,"n":0},{"x":27.5,"y":36,"n":0},{"x":28.5,"y":36,"n":0},{"x":29.5,"y":36,"n":0},{"x":30.5,"y":36,"n":0},{"x":31.5,"y":36,"n":0},{"x":32.5,"y":36,"n":0},{"x":33.5,"y":36,"n":0},{"x":34.5,"y":36,"n":0},{"x":35.5,"y":36,"n":0},{"x":36.5,"y":36,"n":0},{"x":37.5,"y":36,"n":0},{"x":38.5,"y":36,"n":0},{"x":39.5,"y":36,"n":0},
      {"x":0,"y":37,"n":0},{"x":1,"y":37,"n":0},{"x":2,"y":37,"n":0},{"x":3,"y":37,"n":0},{"x":4,"y":37,"n":0},{"x":5,"y":37,"n":0},{"x":6,"y":37,"n":0},{"x":7,"y":37,"n":0},{"x":8,"y":37,"n":0},{"x":9,"y":37,"n":0},{"x":10,"y":37,"n":0},{"x":11,"y":37,"n":0},{"x":12,"y":37,"n":0},{"x":13,"y":37,"n":0},{"x":14,"y":37,"n":0},{"x":15,"y":37,"n":0},{"x":16,"y":37,"n":0},{"x":17,"y":37,"n":0},{"x":18,"y":37,"n":0},{"x":19,"y":37,"n":0},{"x":20,"y":37,"n":0},{"x":21,"y":37,"n":0},{"x":22,"y":37,"n":0},{"x":23,"y":37,"n":0},{"x":24,"y":37,"n":0},{"x":25,"y":37,"n":0},{"x":26,"y":37,"n":0},{"x":27,"y":37,"n":0},{"x":28,"y":37,"n":0},{"x":29,"y":37,"n":0},{"x":30,"y":37,"n":0},{"x":31,"y":37,"n":0},{"x":32,"y":37,"n":0},{"x":33,"y":37,"n":0},{"x":34,"y":37,"n":0},{"x":35,"y":37,"n":0},{"x":36,"y":37,"n":0},{"x":37,"y":37,"n":0},{"x":38,"y":37,"n":0},{"x":39,"y":37,"n":0},
      {"x":0.5,"y":38,"n":0},{"x":1.5,"y":38,"n":0},{"x":2.5,"y":38,"n":0},{"x":3.5,"y":38,"n":0},{"x":4.5,"y":38,"n":0},{"x":5.5,"y":38,"n":0},{"x":6.5,"y":38,"n":0},{"x":7.5,"y":38,"n":0},{"x":8.5,"y":38,"n":0},{"x":9.5,"y":38,"n":0},{"x":10.5,"y":38,"n":0},{"x":11.5,"y":38,"n":0},{"x":12.5,"y":38,"n":0},{"x":13.5,"y":38,"n":0},{"x":14.5,"y":38,"n":0},{"x":15.5,"y":38,"n":0},{"x":16.5,"y":38,"n":0},{"x":17.5,"y":38,"n":0},{"x":18.5,"y":38,"n":0},{"x":19.5,"y":38,"n":0},{"x":20.5,"y":38,"n":0},{"x":21.5,"y":38,"n":0},{"x":22.5,"y":38,"n":0},{"x":23.5,"y":38,"n":0},{"x":24.5,"y":38,"n":0},{"x":25.5,"y":38,"n":0},{"x":26.5,"y":38,"n":0},{"x":27.5,"y":38,"n":0},{"x":28.5,"y":38,"n":0},{"x":29.5,"y":38,"n":0},{"x":30.5,"y":38,"n":0},{"x":31.5,"y":38,"n":0},{"x":32.5,"y":38,"n":0},{"x":33.5,"y":38,"n":0},{"x":34.5,"y":38,"n":0},{"x":35.5,"y":38,"n":0},{"x":36.5,"y":38,"n":0},{"x":37.5,"y":38,"n":0},{"x":38.5,"y":38,"n":0},{"x":39.5,"y":38,"n":0},
      {"x":0,"y":39,"n":0},{"x":1,"y":39,"n":0},{"x":2,"y":39,"n":0},{"x":3,"y":39,"n":0},{"x":4,"y":39,"n":0},{"x":5,"y":39,"n":0},{"x":6,"y":39,"n":0},{"x":7,"y":39,"n":0},{"x":8,"y":39,"n":0},{"x":9,"y":39,"n":0},{"x":10,"y":39,"n":0},{"x":11,"y":39,"n":0},{"x":12,"y":39,"n":0},{"x":13,"y":39,"n":0},{"x":14,"y":39,"n":0},{"x":15,"y":39,"n":0},{"x":16,"y":39,"n":0},{"x":17,"y":39,"n":0},{"x":18,"y":39,"n":0},{"x":19,"y":39,"n":0},{"x":20,"y":39,"n":0},{"x":21,"y":39,"n":0},{"x":22,"y":39,"n":0},{"x":23,"y":39,"n":0},{"x":24,"y":39,"n":0},{"x":25,"y":39,"n":0},{"x":26,"y":39,"n":0},{"x":27,"y":39,"n":0},{"x":28,"y":39,"n":0},{"x":29,"y":39,"n":0},{"x":30,"y":39,"n":0},{"x":31,"y":39,"n":0},{"x":32,"y":39,"n":0},{"x":33,"y":39,"n":0},{"x":34,"y":39,"n":0},{"x":35,"y":39,"n":0},{"x":36,"y":39,"n":0},{"x":37,"y":39,"n":0},{"x":38,"y":39,"n":0},{"x":39,"y":39,"n":0}
    ]
  },
  "layer": [
    {
      "data": {"name": "bar"},
      "mark": {"type": "rect", "stroke": "black", "strokeWidth": 0.6},
      "encoding": {
        "x": {"datum": 0, "type": "quantitative", "scale": {"domain": [0, 130], "nice": false, "zero": false}, "axis": null},
        "x2": {"datum": 1},
        "y": {
          "field": "lo",
          "type": "quantitative",
          "scale": {"domain": [-0.339, 11.168], "nice": false, "zero": false},
          "axis": {
            "orient": "left",
            "values": [0, 2, 4, 6, 8, 10],
            "domain": false,
            "ticks": false,
            "grid": false,
            "title": null,
            "labelFont": "Liberation Sans",
            "labelFontSize": 12,
            "labelColor": "black",
            "labelPadding": 3
          }
        },
        "y2": {"field": "hi"},
        "color": {"field": "n", "type": "quantitative", "legend": null}
      }
    },
    {
      "data": {"name": "cells"},
      "mark": {"type": "point", "shape": "circle", "filled": true, "opacity": 1, "size": 62, "stroke": "black", "strokeWidth": 1},
      "encoding": {
        "x": {"field": "x", "type": "quantitative", "scale": {"domain": [-1.168, 40.243], "nice": false, "zero": false}, "axis": null},
        "y": {"field": "y", "type": "quantitative", "scale": {"domain": [-1.476, 40.354], "nice": false, "zero": false}, "axis": null},
        "color": {
          "field": "n",
          "type": "quantitative",
          "scale": {
            "domain": [0, 3.5, 5.5, 7, 8.5, 11],
            "range": ["#0000FF", "#1E90FF", "#00EEFF", "#FFD700", "#FF8C00", "#FF0000"],
            "interpolate": "rgb"
          },
          "legend": null
        }
      }
    }
  ],
  "resolve": {"scale": {"x": "independent", "y": "independent"}}
}
